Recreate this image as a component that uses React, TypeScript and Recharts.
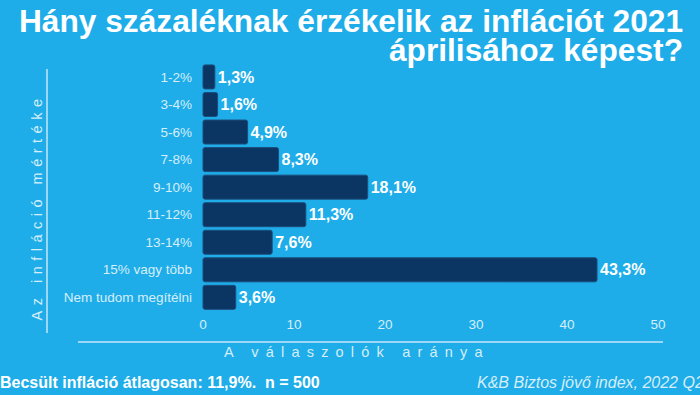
import React from "react";
import { BarChart, Bar, XAxis, YAxis, LabelList } from "recharts";

const categories = ["1-2%", "3-4%", "5-6%", "7-8%", "9-10%", "11-12%", "13-14%", "15% vagy több", "Nem tudom megítélni"];
const values = [1.3, 1.6, 4.9, 8.3, 18.1, 11.3, 7.6, 43.3, 3.6];
const xTicks = [0, 10, 20, 30, 40, 50];

const titleLines = ["Hány százaléknak érzékelik az inflációt 2021", "áprilisához képest?"];
const xAxisTitle = "A válaszolók aránya";
const yAxisTitle = "Az infláció mértéke";
const footLeft = "Becsült infláció átlagosan: 11,9%.  n = 500";
const footRight = "K&B Biztos jövő index, 2022 Q2";

const data = categories.map((c, i) => ({ name: c, value: values[i] }));

const BG = "#1eade9";
const BAR = "#0b3563";
const LIGHT = "#d6eefa";
const FONT = "'Liberation Sans', Arial, sans-serif";

const fmt = (v: any) => String(v).replace(".", ",") + "%";

export default function App() {
  return (
    <div style={{ position: "absolute", left: 0, top: 0, width: 700, height: 395, background: BG, overflow: "hidden", fontFamily: FONT }}>
      <div style={{ position: "absolute", right: 17, top: 7, textAlign: "right", color: "#fff", fontFamily: FONT, fontWeight: 700, fontSize: 31.7, lineHeight: "29px", whiteSpace: "nowrap" }}>
        {titleLines.map((t, i) => (
          <div key={i}>{t}</div>
        ))}
      </div>
      <div style={{ position: "absolute", left: 0, top: 0 }}>
        <BarChart width={700} height={395} data={data} layout="vertical" margin={{ top: 63, right: 42, bottom: 54, left: 0 }} barCategoryGap="7%">
          <XAxis type="number" dataKey="value" domain={[0, 50]} ticks={xTicks} axisLine={false} tickLine={false} tickSize={0} tickMargin={8} height={30} tick={{ fill: LIGHT, fontSize: 13.5, fontFamily: FONT }} />
          <YAxis type="category" dataKey="name" width={203} axisLine={false} tickLine={false} tickSize={0} tickMargin={11} tick={{ fill: LIGHT, fontSize: 13.5, fontFamily: FONT }} interval={0} />
          <Bar dataKey="value" fill={BAR} stroke="#1d4d7c" strokeWidth={1} radius={2} isAnimationActive={false}>
            <LabelList dataKey="value" position="right" offset={3} formatter={fmt} style={{ fill: "#fff", fontWeight: 700, fontSize: 16, fontFamily: FONT }} />
          </Bar>
        </BarChart>
      </div>
      <div style={{ position: "absolute", left: 46, top: 69, width: 2, height: 264, background: "#9ad8f5" }} />
      <div style={{ position: "absolute", left: 78, top: 341, width: 585, height: 2, background: "#9ad8f5" }} />
      <div style={{ position: "absolute", left: 37, top: 207, transform: "translate(-50%, -50%) rotate(-90deg)", color: LIGHT, fontSize: 14.5, letterSpacing: "5.5px", whiteSpace: "nowrap", fontFamily: FONT }}>
        {yAxisTitle}
      </div>
      <div style={{ position: "absolute", left: 224, top: 344, color: LIGHT, fontSize: 14.5, letterSpacing: "7.2px", whiteSpace: "nowrap", fontFamily: FONT }}>
        {xAxisTitle}
      </div>
      <div style={{ position: "absolute", left: 0, top: 374, color: "#fff", fontWeight: 700, fontSize: 16, whiteSpace: "pre", fontFamily: FONT }}>
        {footLeft}
      </div>
      <div style={{ position: "absolute", left: 477, top: 374, color: LIGHT, fontStyle: "italic", fontSize: 16, whiteSpace: "pre", fontFamily: FONT }}>
        {footRight}
      </div>
    </div>
  );
}
